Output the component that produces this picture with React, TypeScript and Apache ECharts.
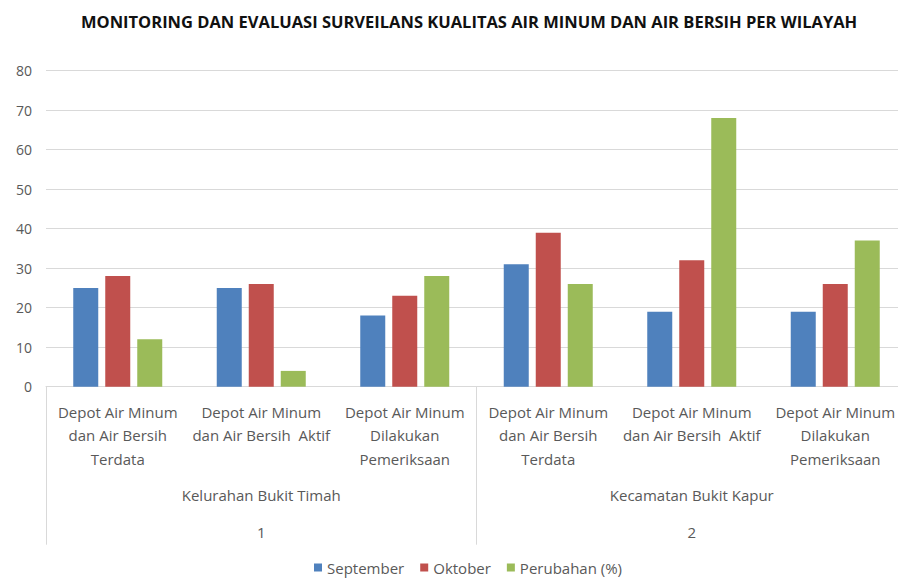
import React, { useEffect, useRef } from "react";
import * as echarts from "echarts";

const categories = [
  "Depot Air Minum\ndan Air Bersih\nTerdata",
  "Depot Air Minum\ndan Air Bersih  Aktif",
  "Depot Air Minum\nDilakukan\nPemeriksaan",
  "Depot Air Minum\ndan Air Bersih\nTerdata",
  "Depot Air Minum\ndan Air Bersih  Aktif",
  "Depot Air Minum\nDilakukan\nPemeriksaan",
];
const groups = ["Kelurahan Bukit Timah", "Kecamatan Bukit Kapur"];
const groupNumbers = ["1", "2"];
const september = [25, 25, 18, 31, 19, 19];
const oktober = [28, 26, 23, 39, 32, 26];
const perubahan = [12, 4, 28, 26, 68, 37];
const seriesNames = ["September", "Oktober", "Perubahan (%)"];
const colors = ["#4F81BD", "#C0504D", "#9BBB59"];

const FONT = "'Open Sans', 'Noto Sans', sans-serif";
const TXT = "#595959";
const GRID = "#D9D9D9";

export default function App() {
  const ref = useRef<HTMLDivElement>(null);
  useEffect(() => {
    document.body.style.margin = "0";
    if (!ref.current) return;
    const chart = echarts.init(ref.current, undefined, { renderer: "svg" });
    const values = [september, oktober, perubahan];
    chart.setOption({
      animation: false,
      textStyle: { fontFamily: FONT },
      title: {
        text: "MONITORING DAN EVALUASI SURVEILANS KUALITAS AIR MINUM DAN AIR BERSIH PER WILAYAH",
        left: 76,
        top: 8,
        textStyle: { fontSize: 16.5, fontWeight: "bold", color: "#111", fontFamily: FONT },
      },
      legend: {
        bottom: 2,
        left: 309,
        icon: "rect",
        itemWidth: 8,
        itemHeight: 8,
        itemGap: 16,
        textStyle: { color: TXT, fontSize: 15, fontFamily: FONT },
        data: seriesNames,
      },
      grid: { left: 46, top: 70.7, width: 861, bottom: 195.3, outerBoundsMode: "none" },
      yAxis: {
        type: "value",
        min: 0,
        max: 80,
        interval: 10,
        axisLine: { show: false },
        axisTick: { show: false },
        axisLabel: { color: TXT, fontSize: 14, margin: 14, fontFamily: FONT },
        splitLine: { lineStyle: { color: GRID, width: 1 } },
      },
      xAxis: [
        {
          type: "category",
          data: categories,
          position: "bottom",
          axisLine: { lineStyle: { color: GRID } },
          axisTick: { show: false },
          axisLabel: {
            color: TXT,
            fontSize: 15,
            lineHeight: 23.7,
            margin: 13,
            interval: 0,
            fontFamily: FONT,
          },
        },
        {
          type: "category",
          data: groups,
          position: "bottom",
          axisLine: { show: false },
          axisTick: { show: true, length: 158, lineStyle: { color: GRID } },
          axisLabel: { color: TXT, fontSize: 15, lineHeight: 20, margin: 98, fontFamily: FONT },
        },
        {
          type: "category",
          data: groupNumbers,
          position: "bottom",
          axisLine: { show: false },
          axisTick: { show: false },
          axisLabel: { color: TXT, fontSize: 15, lineHeight: 20, margin: 135, fontFamily: FONT },
        },
      ],
      series: seriesNames.map((name, i) => ({
        name,
        type: "bar",
        xAxisIndex: 0,
        data: values[i],
        barWidth: 25,
        barGap: "28%",
        itemStyle: { color: colors[i] },
      })),
    });
    return () => chart.dispose();
  }, []);
  return <div ref={ref} style={{ width: 898, height: 582 }} />;
}
